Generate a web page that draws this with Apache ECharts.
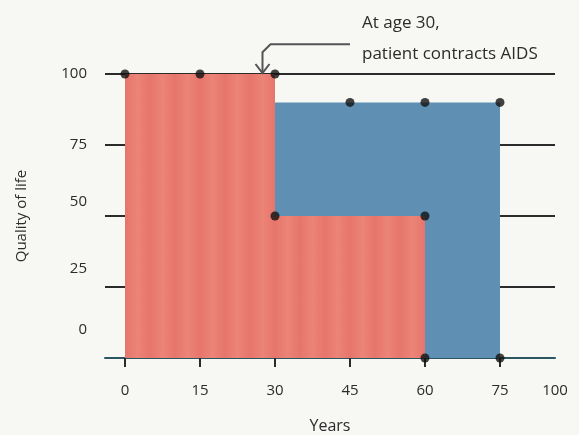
<!DOCTYPE html>
<html>
<head>
<meta charset="utf-8">
<script src="https://cdn.jsdelivr.net/npm/echarts@6/dist/echarts.min.js"></script>
<style>
  html, body { margin: 0; padding: 0; background: #f7f7f4; }
  #chart { width: 579px; height: 435px; }
</style>
</head>
<body>
<div id="chart"></div>
<script>
// healthy life (red) and life with AIDS (blue)
var healthyLife = [[0, 100], [30, 100], [30, 50], [60, 50], [60, 0]];
var aidsLife = [[30, 90], [75, 90]];
var dots = [[0, 100], [15, 100], [30, 100], [45, 90], [60, 90], [75, 90],
            [30, 50], [60, 50], [60, 0], [75, 0]];

// the drawn "100" sits closer than one step past 75
var xTickValues = [0, 15, 30, 45, 60, 75, 86];
var xTickLabels = ['0', '15', '30', '45', '60', '75', '100'];
var xTickMarks = [0, 15, 30, 45, 60, 75];
// hand-drawn y labels float above their lines
var yLabelLift = { 0: 28, 25: 18, 50: 14, 75: 0, 100: 0 };

var font = 'Open Sans';
var ink = '#2b2b2b';

// soft vertical stripes for the red block
var stripe = document.createElement('canvas');
stripe.width = 25; stripe.height = 10;
var sctx = stripe.getContext('2d');
var g = sctx.createLinearGradient(0, 0, 25, 0);
g.addColorStop(0, '#e6756b');
g.addColorStop(0.5, '#ec8478');
g.addColorStop(1, '#e6756b');
sctx.fillStyle = g;
sctx.fillRect(0, 0, 25, 10);

var chart = echarts.init(document.getElementById('chart'));

var yRich = {};
Object.keys(yLabelLift).forEach(function (k) {
  yRich['l' + k] = { fontFamily: font, fontSize: 15, color: ink, padding: [0, 0, yLabelLift[k] * 2, 0] };
});

chart.setOption({
  backgroundColor: '#f7f7f4',
  animation: false,
  grid: { left: 105, right: 24, top: 74, bottom: 77, outerBoundsMode: 'none' },
  xAxis: {
    type: 'value',
    min: -4,
    max: 86,
    name: 'Years',
    nameLocation: 'middle',
    nameGap: 60,
    nameTextStyle: { fontFamily: font, fontSize: 16, color: ink },
    axisLine: { show: true, onZero: false, lineStyle: { color: '#2c5660', width: 2 } },
    axisTick: { show: true, length: 9, customValues: xTickMarks, lineStyle: { color: ink, width: 2 } },
    axisLabel: {
      customValues: xTickValues,
      margin: 25,
      fontFamily: font, fontSize: 15, color: ink,
      formatter: function (v) { return xTickLabels[xTickValues.indexOf(v)]; }
    },
    splitLine: { show: false }
  },
  yAxis: {
    type: 'value',
    min: 0,
    max: 100,
    interval: 25,
    name: 'Quality of life',
    nameLocation: 'middle',
    nameGap: 76,
    nameTextStyle: { fontFamily: font, fontSize: 15, color: ink },
    axisLine: { show: false },
    axisTick: { show: false },
    axisLabel: {
      margin: 18,
      formatter: function (v) { return '{l' + v + '|' + v + '}'; },
      rich: yRich
    },
    splitLine: { show: true, lineStyle: { color: ink, width: 2 } }
  },
  series: [
    {
      type: 'line',
      data: aidsLife,
      symbol: 'none',
      lineStyle: { width: 0 },
      areaStyle: { color: '#5f8fb2', opacity: 1 },
      z: 1
    },
    {
      type: 'line',
      data: healthyLife,
      symbol: 'none',
      lineStyle: { width: 0 },
      areaStyle: { color: { image: stripe, repeat: 'repeat' }, opacity: 1 },
      z: 2
    },
    {
      type: 'scatter',
      data: dots,
      symbolSize: 9,
      itemStyle: { color: '#111' },
      z: 5
    }
  ]
});

// annotation arrow pointing at age ~27 on the top line
var p0 = chart.convertToPixel({ gridIndex: 0 }, [45, 110.5]);
var p1 = chart.convertToPixel({ gridIndex: 0 }, [27.5, 110.5]);
var p2 = chart.convertToPixel({ gridIndex: 0 }, [27.5, 100]);
chart.setOption({
  graphic: [
    {
      type: 'polyline',
      shape: { points: [p0, [p1[0] + 8, p1[1]], [p1[0], p1[1] + 8], [p2[0], p2[1] - 1]] },
      style: { stroke: '#555', lineWidth: 2, fill: null },
      z: 10
    },
    {
      type: 'polyline',
      shape: { points: [[p2[0] - 7, p2[1] - 10], [p2[0], p2[1] - 1], [p2[0] + 7, p2[1] - 10]] },
      style: { stroke: '#555', lineWidth: 2, fill: null },
      z: 10
    },
    {
      type: 'text',
      left: 362,
      top: 8,
      style: {
        text: 'At age 30,\npatient contracts AIDS',
        fontFamily: font,
        fontSize: 17,
        lineHeight: 31,
        fill: ink
      },
      z: 10
    }
  ]
});
</script>
</body>
</html>
